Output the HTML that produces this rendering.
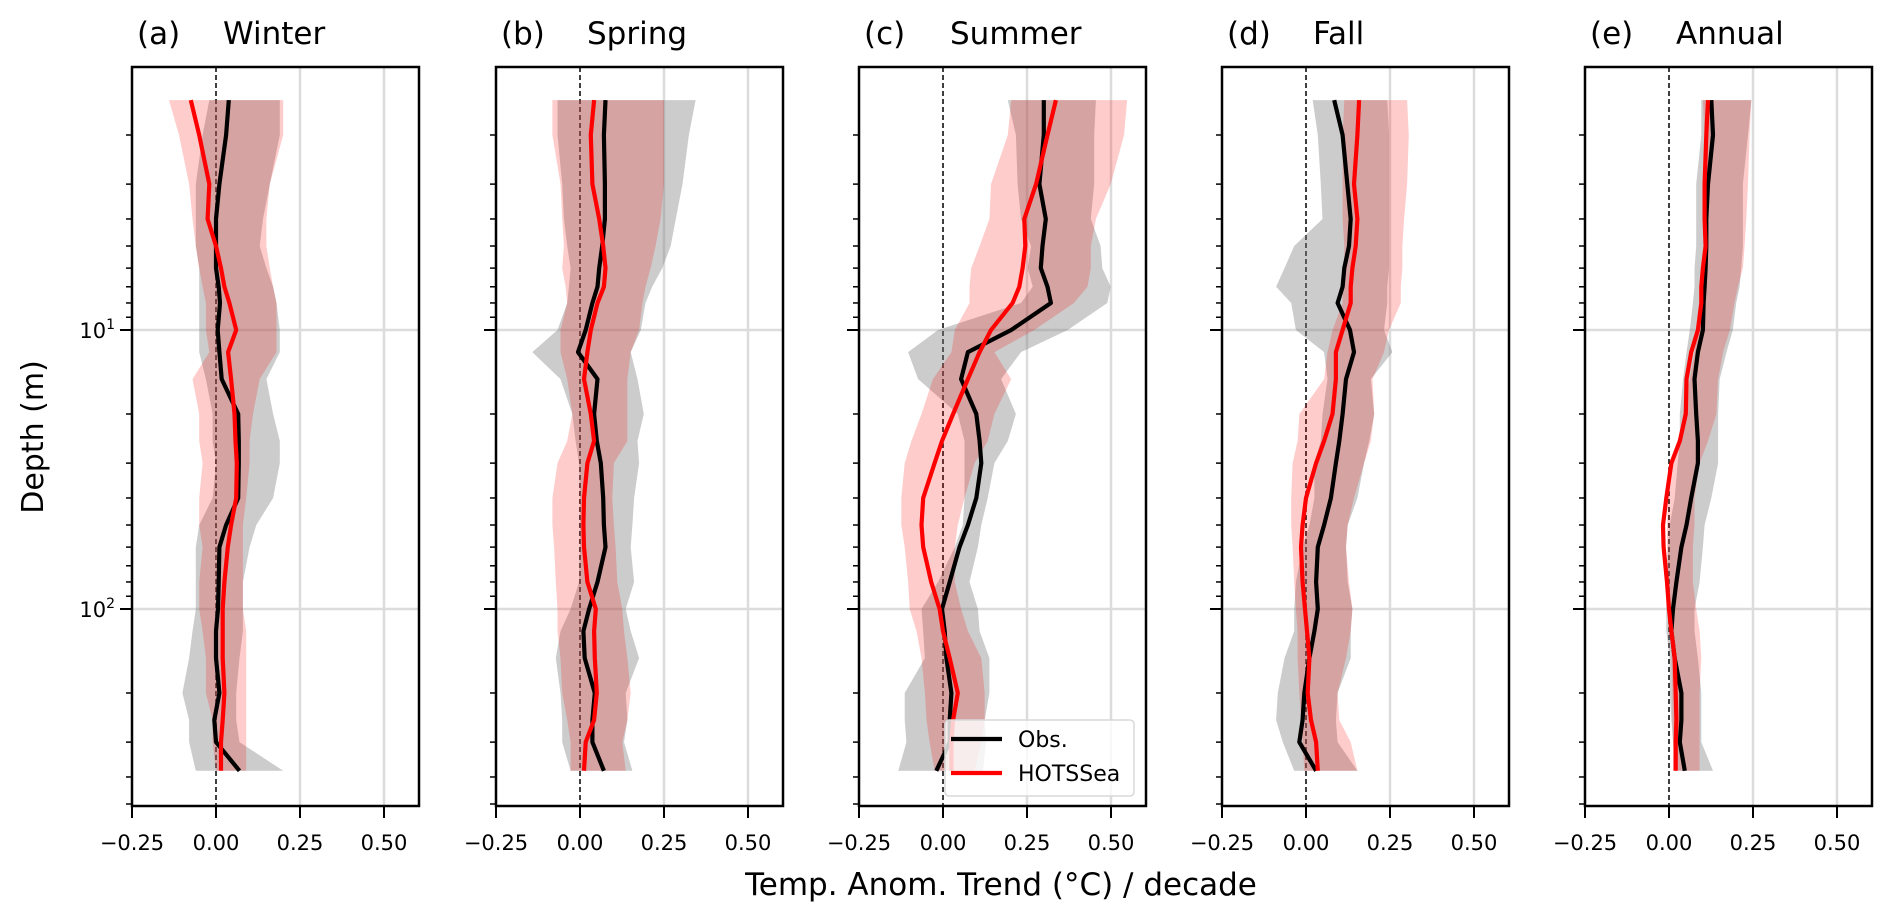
<!DOCTYPE html>
<html><head><meta charset="utf-8"><style>
html,body{margin:0;padding:0;background:#fff;}
svg{display:block;font-family:"DejaVu Sans","Liberation Sans",sans-serif;}
</style></head><body>
<div style="position:relative;width:1892px;height:920px">
<svg id="chart" width="1892" height="920" viewBox="0 0 1892 920" style="position:absolute;left:0;top:0"></svg>
<svg width="1892" height="920" style="position:absolute;left:0;top:0;pointer-events:none">
  <text x="1001" y="895" font-size="31" text-anchor="middle">Temp. Anom. Trend (°C) / decade</text>
  <text x="0" y="0" font-size="30" text-anchor="middle" transform="translate(43,437) rotate(-90)">Depth (m)</text>
  <g>
    <rect x="945" y="720" width="189" height="76" rx="4" fill="rgba(255,255,255,0.8)" stroke="#d8d8d8" stroke-width="1.5"/>
    <line x1="951" x2="1002" y1="739" y2="739" stroke="#000" stroke-width="4.2"/>
    <text x="1018" y="747" font-size="22">Obs.</text>
    <line x1="951" x2="1002" y1="773" y2="773" stroke="#ff0000" stroke-width="4.2"/>
    <text x="1018" y="781" font-size="22">HOTSSea</text>
  </g>
</svg>
</div>
<script>
const depths=[1.5,2,3,4,5,6,7,8,10,12,15,20,25,30,40,50,60,80,100,120,150,200,250,300,380];
const panelIds=['a','b','c','d','e'];
const panelTitles=['Winter','Spring','Summer','Fall','Annual'];
const xTicks=[-0.25,0,0.25,0.5];
const xTickLabels=['\u22120.25','0.00','0.25','0.50'];
const obsWinter=[.038,.03,.01,0,0,0,.008,.012,.005,.01,.017,.066,.068,.068,.066,.03,.01,.008,.006,0,0,.01,-.005,0,.07];
const modWinter=[-.075,-.05,-.02,-.025,0,.015,.025,.04,.06,.036,.045,.055,.058,.062,.06,.045,.035,.025,.02,.02,.02,.025,.02,.015,.015];
const obsLoWinter=[-.02,-.04,-.06,-.06,-.06,-.05,-.05,-.05,-.05,-.05,-.03,-.01,-.01,0,-.01,-.05,-.06,-.06,-.06,-.07,-.08,-.1,-.08,-.08,-.06];
const obsHiWinter=[.19,.19,.16,.14,.13,.15,.17,.18,.19,.19,.15,.17,.19,.19,.17,.12,.10,.08,.08,.08,.07,.06,.06,.07,.2];
const modLoWinter=[-.14,-.11,-.08,-.07,-.06,-.05,-.04,-.03,-.03,-.02,-.07,-.05,-.05,-.04,-.05,-.05,-.04,-.05,-.05,-.04,-.03,-.03,-.01,-.01,0];
const modHiWinter=[.2,.2,.16,.15,.15,.16,.17,.18,.18,.18,.13,.11,.10,.10,.09,.08,.08,.08,.08,.09,.09,.09,.09,.09,.09];
const obsSpring=[.076,.071,.074,.074,.066,.057,.052,.037,.017,-.006,.052,.042,.05,.062,.069,.071,.076,.052,.027,.01,.014,.044,.037,.037,.071];
const modSpring=[.042,.032,.037,.057,.069,.076,.071,.052,.032,.022,.012,.032,.042,.022,.012,.01,.012,.022,.047,.042,.044,.05,.042,.017,.012];
const obsLoSpring=[-.067,-.067,-.053,-.048,-.038,-.028,-.033,-.038,-.067,-.142,-.058,-.023,-.013,-.003,0,0,0,-.003,-.028,-.058,-.072,-.058,-.053,-.053,-.028];
const obsHiSpring=[.344,.324,.305,.285,.27,.245,.215,.195,.181,.151,.171,.19,.171,.176,.161,.156,.151,.161,.136,.151,.176,.136,.141,.131,.156];
const modLoSpring=[-.082,-.082,-.058,-.053,-.048,-.053,-.043,-.038,-.058,-.058,-.038,-.023,-.038,-.067,-.082,-.082,-.077,-.072,-.067,-.067,-.058,-.053,-.038,-.028,-.028];
const modHiSpring=[.25,.25,.25,.24,.225,.21,.195,.186,.176,.151,.141,.141,.141,.101,.096,.101,.106,.111,.126,.131,.141,.151,.141,.126,.136];
const obsSummer=[.30,.30,.287,.306,.296,.291,.311,.321,.203,.074,.054,.099,.109,.114,.099,.074,.049,.02,-.003,.005,.01,.025,.02,.02,-.02];
const modSummer=[.336,.311,.277,.242,.245,.237,.227,.207,.143,.109,.074,.03,-.003,-.025,-.059,-.064,-.059,-.035,-.01,0,.02,.044,.03,.025,.025];
const obsLoSummer=[.193,.217,.222,.232,.262,.252,.267,.232,-.015,-.104,-.074,.044,.064,.064,.064,.059,.035,-.015,-.064,-.059,-.054,-.114,-.114,-.109,-.133];
const obsHiSummer=[.455,.45,.45,.44,.469,.474,.499,.489,.371,.232,.173,.217,.193,.153,.133,.114,.104,.079,.104,.109,.138,.138,.124,.128,.119];
const modLoSummer=[.203,.193,.143,.138,.109,.084,.079,.079,.035,.025,-.03,-.064,-.094,-.114,-.124,-.124,-.114,-.104,-.099,-.079,-.064,-.054,-.049,-.04,-.025];
const modHiSummer=[.548,.539,.499,.455,.44,.44,.43,.39,.272,.153,.203,.153,.133,.094,.064,.044,.035,.035,.054,.074,.114,.124,.124,.114,.094];
const obsFall=[.084,.109,.123,.133,.128,.114,.109,.094,.131,.143,.119,.109,.099,.089,.074,.054,.035,.03,.035,.025,.01,-.005,-.01,-.02,.03];
const modFall=[.158,.153,.143,.153,.148,.138,.133,.133,.109,.089,.089,.079,.054,.03,0,-.01,-.015,-.01,-.003,.003,.01,.005,.015,.03,.035];
const obsLoFall=[.02,.035,.044,.049,-.035,-.064,-.089,-.044,-.03,.054,.064,.049,.044,.025,.025,.01,-.01,-.03,-.035,-.035,-.064,-.084,-.089,-.069,-.035];
const obsHiFall=[.242,.247,.247,.247,.247,.247,.242,.242,.232,.257,.193,.203,.188,.173,.153,.124,.119,.124,.138,.133,.133,.094,.089,.094,.153];
const modLoFall=[.114,.109,.109,.109,.114,.114,.109,.109,.079,.064,.054,-.02,-.025,-.04,-.044,-.044,-.04,-.035,-.03,-.025,-.025,-.02,-.015,-.01,-.005];
const modHiFall=[.301,.306,.301,.292,.287,.287,.282,.282,.247,.232,.198,.203,.193,.173,.143,.124,.119,.128,.138,.133,.119,.094,.099,.133,.153];
const obsAnnual=[.126,.131,.116,.111,.111,.109,.106,.103,.101,.086,.076,.081,.086,.086,.066,.052,.037,.022,.012,.007,.017,.037,.037,.032,.047];
const modAnnual=[.116,.111,.106,.106,.109,.101,.096,.096,.086,.066,.052,.05,.032,.007,-.008,-.018,-.016,-.006,0,.007,.017,.02,.022,.02,.02];
const obsLoAnnual=[.096,.096,.081,.081,.081,.076,.076,.071,.062,.052,.042,.032,.032,.026,.017,.002,-.003,-.008,-.008,-.008,.002,.002,.007,.012,.022];
const obsHiAnnual=[.245,.235,.22,.22,.22,.215,.21,.2,.19,.171,.151,.146,.146,.146,.126,.106,.101,.091,.076,.076,.086,.096,.096,.096,.131];
const modLoAnnual=[.101,.106,.106,.106,.106,.106,.106,.101,.086,.076,.062,.042,.027,.002,-.003,-.006,-.006,-.003,0,.004,.007,.01,.01,.012,.012];
const modHiAnnual=[.245,.24,.235,.23,.225,.22,.205,.195,.181,.161,.146,.141,.116,.091,.076,.076,.071,.071,.081,.091,.096,.091,.091,.091,.091];

const obsAll=[obsWinter,obsSpring,obsSummer,obsFall,obsAnnual];
const modAll=[modWinter,modSpring,modSummer,modFall,modAnnual];
const obsLoAll=[obsLoWinter,obsLoSpring,obsLoSummer,obsLoFall,obsLoAnnual];
const obsHiAll=[obsHiWinter,obsHiSpring,obsHiSummer,obsHiFall,obsHiAnnual];
const modLoAll=[modLoWinter,modLoSpring,modLoSummer,modLoFall,modLoAnnual];
const modHiAll=[modHiWinter,modHiSpring,modHiSummer,modHiFall,modHiAnnual];

const NS='http://www.w3.org/2000/svg';
const svg=document.getElementById('chart');
function mk(tag,attrs,parent){const e=document.createElementNS(NS,tag);for(const k in attrs)e.setAttribute(k,attrs[k]);(parent||svg).appendChild(e);return e;}
const panelLefts=[132,496,859,1222,1585];
const W=287, TOP=67, BOT=806;
const XMIN=-0.25, XPX=336;
const Y10=330, DEC=279;
function yScale(d){return Y10+(Math.log10(d)-1)*DEC;}

panelLefts.forEach((L,p)=>{
  const g=mk('g',{});
  
  
  const xs=v=>L+(v-XMIN)*XPX;
  const clipId='clip'+p;
  const cp=mk('clipPath',{id:clipId},g);mk('rect',{x:L,y:TOP,width:W,height:BOT-TOP},cp);
  [0.25,0.5].forEach(v=>{const l=mk('line',{x1:xs(v),x2:xs(v),y1:TOP,y2:BOT,stroke:'#dcdcdc','stroke-width':2.5},g);
    });
  [10,100].forEach(d=>{const l=mk('line',{x1:L,x2:L+W,y1:yScale(d),y2:yScale(d),stroke:'#dcdcdc','stroke-width':2.5},g);
    });
  const zl=mk('line',{x1:xs(0),x2:xs(0),y1:TOP,y2:BOT,stroke:'#000','stroke-width':1.5,'stroke-dasharray':'5,3'},g);
  
  function band(lo,hi,fill,name){
    let d='';depths.forEach((dp,i)=>{d+=(i?'L':'M')+xs(lo[i]).toFixed(1)+','+yScale(dp).toFixed(1);});
    for(let i=depths.length-1;i>=0;i--)d+='L'+xs(hi[i]).toFixed(1)+','+yScale(depths[i]).toFixed(1);
    const e=mk('path',{d:d+'Z',fill:fill,'clip-path':'url(#'+clipId+')'},g);
    
  }
  function line(vals,col,name){
    const pts=depths.map((dp,i)=>xs(vals[i]).toFixed(1)+','+yScale(dp).toFixed(1)).join(' ');
    const e=mk('polyline',{points:pts,fill:'none',stroke:col,'stroke-width':4.2,'stroke-linejoin':'round','clip-path':'url(#'+clipId+')'},g);
    
  }
  band(obsLoAll[p],obsHiAll[p],'rgba(128,128,128,0.4)','obs-confidence-band');
  band(modLoAll[p],modHiAll[p],'rgba(255,0,0,0.2)','hotssea-confidence-band');
  line(obsAll[p],'#000','obs-line');
  line(modAll[p],'#ff0000','hotssea-line');
  const fr=mk('rect',{x:L,y:TOP,width:W,height:BOT-TOP,fill:'none',stroke:'#000','stroke-width':2.5},g);
  
  xTicks.forEach((v,i)=>{
    const x=xs(v);
    const t=mk('line',{x1:x,x2:x,y1:BOT,y2:BOT+12,stroke:'#000','stroke-width':2},g);
    
    const tx=mk('text',{x:x,y:BOT+44,'font-size':21,'text-anchor':'middle',fill:'#000'},g);
    tx.textContent=xTickLabels[i];
    
  });
  for(let e=0;e<3;e++)for(let m=1;m<10;m++){
    const d=m*Math.pow(10,e);const y=yScale(d);
    if(y<TOP||y>BOT)continue;
    const major=(m===1);
    const t=mk('line',{x1:L-(major?12:6),x2:L,y1:y,y2:y,stroke:'#000','stroke-width':major?2:1.5},g);
    
    if(major&&p===0){
      const tx=mk('text',{x:L-17,y:y+8,'font-size':21,'text-anchor':'end',fill:'#000'},g);
      tx.innerHTML='10<tspan dy="-9" font-size="14">'+e+'</tspan>';
      
    }
  }
  const ti=mk('text',{x:L+5,y:44,'font-size':31,fill:'#000'},g);
  ti.textContent='('+panelIds[p]+')';
  
  const tt=mk('text',{x:L+91,y:44,'font-size':31,fill:'#000'},g);
  tt.textContent=panelTitles[p];
  
});
</script>
</body></html>
